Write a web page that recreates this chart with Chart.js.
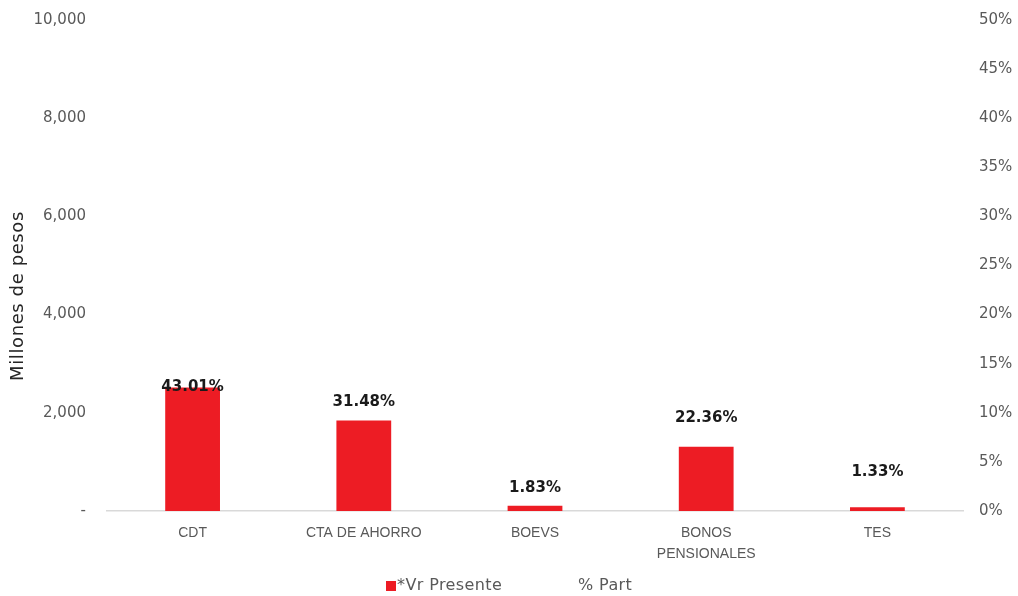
<!DOCTYPE html>
<html>
<head>
<meta charset="utf-8">
<script src="https://cdn.jsdelivr.net/npm/chart.js@4.4.0/dist/chart.umd.min.js"></script>
<style>
  html, body { margin: 0; padding: 0; background: #ffffff; }
  #wrap { width: 1018px; height: 596px; }
</style>
</head>
<body>
<div id="wrap"><canvas id="c" width="1018" height="596"></canvas></div>
<script>
// ---- data ----
const categories = ['CDT', 'CTA DE AHORRO', 'BOEVS', ['BONOS', 'PENSIONALES'], 'TES'];
const vrPresente = [2515, 1841, 107, 1308, 78];          // millones de pesos
const pctPart = [43.01, 31.48, 1.83, 22.36, 1.33];      // % participación
const leftTicks = [0, 2000, 4000, 6000, 8000, 10000];
const rightTicks = [0, 5, 10, 15, 20, 25, 30, 35, 40, 45, 50];
const axisTitle = 'Millones de pesos';
// label vertical offsets (px, relative to bar top) – style only
const labelOffset = [0, -18, -18, -29, -35];

const RED = '#ED1C24';
const TICK = '#595959';

const pctLabels = {
  id: 'pctLabels',
  afterDatasetsDraw(chart) {
    const ctx = chart.ctx;
    const meta = chart.getDatasetMeta(0);
    ctx.save();
    ctx.font = 'bold 15px "DejaVu Sans"';
    ctx.fillStyle = '#1a1a1a';
    ctx.textAlign = 'center';
    ctx.textBaseline = 'middle';
    meta.data.forEach((bar, i) => {
      ctx.fillText(pctPart[i].toFixed(2) + '%', bar.x, bar.y + labelOffset[i]);
    });
    ctx.restore();
  }
};

const extras = {
  id: 'extras',
  afterDraw(chart) {
    const ctx = chart.ctx;
    // axis title
    ctx.save();
    ctx.translate(18, 296);
    ctx.rotate(-Math.PI / 2);
    ctx.font = '18px "DejaVu Sans"';
    try { ctx.letterSpacing = '0.6px'; } catch (e) {}
    ctx.fillStyle = '#262626';
    ctx.textAlign = 'center';
    ctx.textBaseline = 'middle';
    ctx.fillText(axisTitle, 0, 0);
    ctx.restore();
    // legend
    const y = 586;
    ctx.save();
    ctx.font = '16px "DejaVu Sans"';
    try { ctx.letterSpacing = '0.4px'; } catch (e) {}
    ctx.fillStyle = RED;
    ctx.fillRect(386, y - 5, 10, 10);
    ctx.fillStyle = TICK;
    ctx.textAlign = 'left';
    ctx.textBaseline = 'middle';
    ctx.fillText(chart.data.datasets[0].label, 397, y);
    ctx.fillText(chart.data.datasets[1].label, 578, y);
    ctx.restore();
  }
};

new Chart(document.getElementById('c'), {
  data: {
    labels: categories,
    datasets: [
      {
        type: 'bar',
        label: '*Vr Presente',
        data: vrPresente,
        backgroundColor: RED,
        borderWidth: 0,
        yAxisID: 'y',
        barPercentage: 0.32,
        categoryPercentage: 1.0,
        order: 2
      },
      {
        type: 'line',
        label: '% Part',
        data: pctPart,
        yAxisID: 'y1',
        showLine: false,
        pointRadius: 0,
        borderColor: 'rgba(0,0,0,0)',
        backgroundColor: 'rgba(0,0,0,0)',
        order: 1
      }
    ]
  },
  options: {
    responsive: false,
    animation: false,
    layout: { padding: { top: 20, bottom: 31, left: 0, right: 0 } },
    plugins: {
      legend: { display: false },
      tooltip: { enabled: false }
    },
    scales: {
      x: {
        grid: { display: false, drawTicks: false },
        border: { display: true, color: '#d9d9d9', width: 1.5 },
        ticks: {
          color: TICK,
          font: { family: '"Liberation Sans", sans-serif', size: 14, lineHeight: 1.5 },
          padding: 12,
          maxRotation: 0,
          autoSkip: false
        },
        afterFit(s) { s.height = 54; }
      },
      y: {
        position: 'left',
        min: 0,
        max: 10000,
        afterBuildTicks(s) { s.ticks = leftTicks.map(v => ({ value: v })); },
        grid: { display: false, drawTicks: false },
        border: { display: false },
        ticks: {
          color: TICK,
          font: { family: '"DejaVu Sans"', size: 15 },
          padding: 21,
          callback: v => v === 0 ? '-' : v.toLocaleString('en-US')
        },
        afterFit(s) { s.width = 107; s.paddingTop = 10; s.paddingBottom = 10; }
      },
      y1: {
        position: 'right',
        min: 0,
        max: 50,
        afterBuildTicks(s) { s.ticks = rightTicks.map(v => ({ value: v })); },
        grid: { display: false, drawTicks: false },
        border: { display: false },
        ticks: {
          color: TICK,
          font: { family: '"DejaVu Sans"', size: 15 },
          padding: 16,
          callback: v => v + '%'
        },
        afterFit(s) { s.width = 55; s.paddingTop = 10; s.paddingBottom = 10; }
      }
    }
  },
  plugins: [pctLabels, extras]
});
</script>
</body>
</html>
